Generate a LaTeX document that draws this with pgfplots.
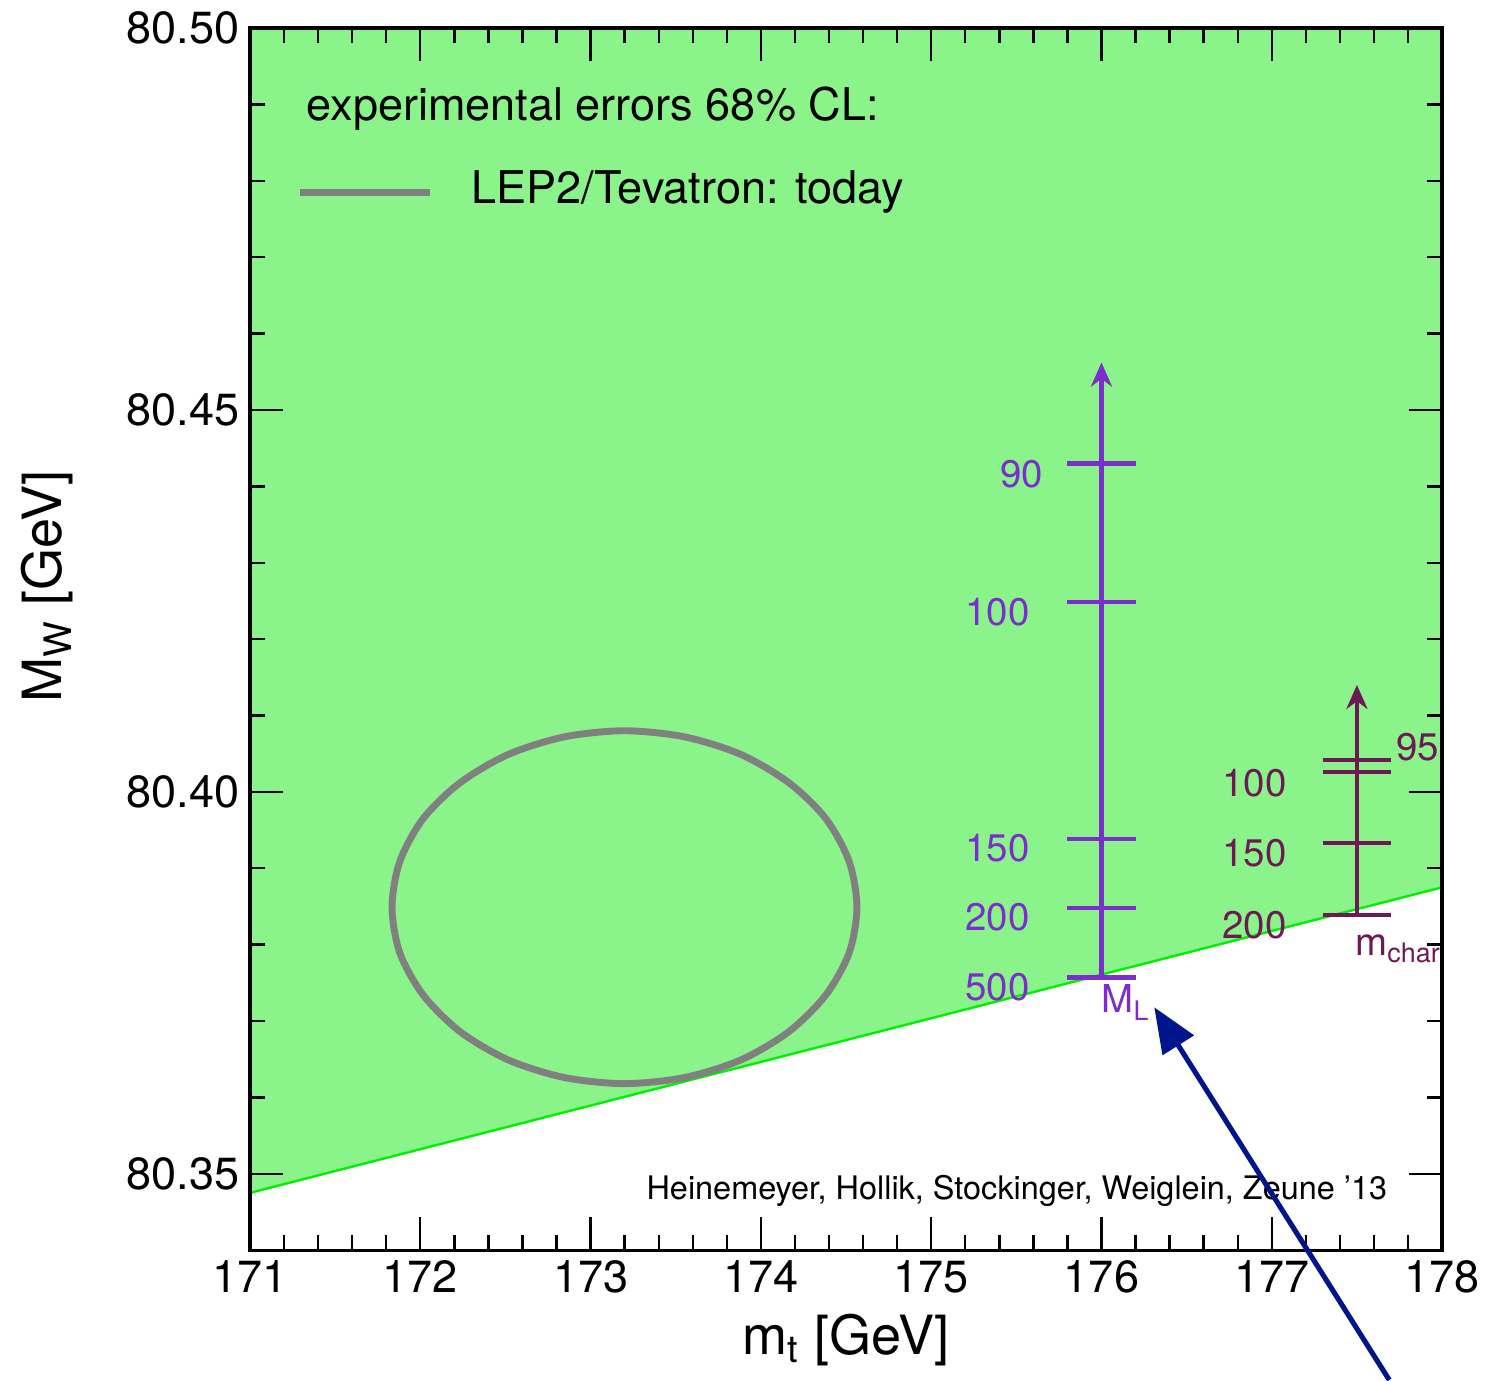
\documentclass[border=0pt]{standalone}
\usepackage{pgfplots}
\pgfplotsset{compat=1.18}
\usepackage{fontspec}
\setmainfont{TeX Gyre Heros}
\usetikzlibrary{arrows.meta}

\definecolor{bandgreen}{RGB}{138,243,138}
\definecolor{edgegreen}{RGB}{0,240,0}
\definecolor{mlpurple}{RGB}{125,45,205}
\definecolor{charcol}{RGB}{110,25,85}
\definecolor{ellgray}{RGB}{128,128,128}
\definecolor{navyarrow}{RGB}{0,20,140}

\newcommand{\fs}[1]{\fontsize{#1}{#1}\selectfont}

\begin{document}
\begin{tikzpicture}
\begin{axis}[
  scale only axis,
  width=397pt, height=407pt,
  xmin=171, xmax=178, ymin=80.34, ymax=80.50,
  xtick={171,...,178}, minor x tick num=4,
  ytick={80.35,80.40,80.45,80.50}, minor y tick num=4,
  tick align=inside,
  major tick length=11pt, minor tick length=5pt,
  every tick/.style={black, line width=0.8pt},
  axis line style={line width=1.1pt},
  axis on top,
  /pgf/number format/assume math mode=true,
  /pgf/number format/1000 sep={},
  yticklabel style={/pgf/number format/fixed, /pgf/number format/fixed zerofill,
    /pgf/number format/precision=2, font=\fs{15}},
  xticklabel style={font=\fs{15}},
  xlabel={m\textsubscript{t} [GeV]},
  ylabel={M\textsubscript{W} [GeV]},
  xlabel style={font=\fs{18}},
  ylabel style={font=\fs{18}, at={(rel axis cs:-0.17,0.543)}, anchor=center},
]
% allowed band
\addplot[fill=bandgreen, draw=none] coordinates {
  (171,80.3475) (178,80.3875) (178,80.50) (171,80.50)} -- cycle;
\addplot[edgegreen, line width=0.8pt] coordinates {(171,80.3475) (178,80.3875)};

% LEP2/Tevatron ellipse
\addplot[ellgray, line width=2.3pt, smooth cycle] coordinates {
  (174.564,80.3849) (174.518,80.3909) (174.381,80.3965) (174.164,80.4012)
  (173.882,80.4049) (173.552,80.4072) (173.199,80.4080) (172.846,80.4072)
  (172.517,80.4049) (172.234,80.4012) (172.017,80.3965) (171.880,80.3909)
  (171.834,80.3849) (171.880,80.3789) (172.017,80.3734) (172.234,80.3686)
  (172.517,80.3649) (172.846,80.3626) (173.199,80.3618) (173.552,80.3626)
  (173.882,80.3649) (174.164,80.3686) (174.381,80.3734) (174.518,80.3789)};

% legend
\addplot[ellgray, line width=2.2pt] coordinates {(171.294,80.4785) (172.057,80.4785)};
\node[anchor=west, font=\fs{15}] at (axis cs:171.27,80.4895) {experimental errors 68\% CL:};
\node[anchor=west, font=\fs{15}] at (axis cs:172.24,80.4785) {LEP2/Tevatron: today};

% M_L ladder
\addplot[mlpurple, line width=1.4pt, -{Stealth[length=8pt,width=7pt]}] coordinates {(176,80.3758) (176,80.4562)};
\addplot[mlpurple, line width=1.4pt] coordinates {(175.8,80.4430) (176.2,80.4430)};
\addplot[mlpurple, line width=1.4pt] coordinates {(175.8,80.4249) (176.2,80.4249)};
\addplot[mlpurple, line width=1.4pt] coordinates {(175.8,80.3938) (176.2,80.3938)};
\addplot[mlpurple, line width=1.4pt] coordinates {(175.8,80.3848) (176.2,80.3848)};
\addplot[mlpurple, line width=1.4pt] coordinates {(175.8,80.3757) (176.2,80.3757)};
\node[mlpurple, anchor=east, font=\fs{12.8}] at (axis cs:175.72,80.4416) {90};
\node[mlpurple, anchor=east, font=\fs{12.8}] at (axis cs:175.64,80.4235) {100};
\node[mlpurple, anchor=east, font=\fs{12.8}] at (axis cs:175.64,80.3926) {150};
\node[mlpurple, anchor=east, font=\fs{12.8}] at (axis cs:175.64,80.3836) {200};
\node[mlpurple, anchor=east, font=\fs{12.8}] at (axis cs:175.64,80.3744) {500};
\node[mlpurple, anchor=north west, font=\fs{12.8}, inner sep=1pt] at (axis cs:175.98,80.3752) {M\textsubscript{L}};

% m_char ladder
\addplot[charcol, line width=1.4pt, -{Stealth[length=8pt,width=7pt]}] coordinates {(177.5,80.3839) (177.5,80.4140)};
\addplot[charcol, line width=1.4pt] coordinates {(177.3,80.4042) (177.7,80.4042)};
\addplot[charcol, line width=1.4pt] coordinates {(177.3,80.4026) (177.7,80.4026)};
\addplot[charcol, line width=1.4pt] coordinates {(177.3,80.3933) (177.7,80.3933)};
\addplot[charcol, line width=1.4pt] coordinates {(177.3,80.3839) (177.7,80.3839)};
\node[charcol, anchor=west, font=\fs{12.8}] at (axis cs:177.67,80.4058) {95};
\node[charcol, anchor=east, font=\fs{12.8}] at (axis cs:177.15,80.4012) {100};
\node[charcol, anchor=east, font=\fs{12.8}] at (axis cs:177.15,80.3920) {150};
\node[charcol, anchor=east, font=\fs{12.8}] at (axis cs:177.15,80.3826) {200};
\node[charcol, anchor=north west, font=\fs{12.8}, inner sep=1pt] at (axis cs:177.47,80.3818) {m\textsubscript{char}};

% credit
\node[anchor=east, font=\fs{10.8}] at (axis cs:177.74,80.3478) {Heinemeyer, Hollik, Stockinger, Weiglein, Zeune '13};

% anchors for annotation arrow and page frame
\coordinate (arrtip) at (axis cs:176.31,80.3718);
\coordinate (arrtail) at (axis cs:177.69,80.3230);
\coordinate (bbl) at (axis cs:169.532,80.32297);
\coordinate (btr) at (axis cs:178.252,80.50367);
\end{axis}
\draw[navyarrow, line width=1.7pt, -{Triangle[length=15pt,width=12pt]}] (arrtail) -- (arrtip);
\pgfresetboundingbox
\useasboundingbox (bbl) rectangle (btr);
\end{tikzpicture}
\end{document}
